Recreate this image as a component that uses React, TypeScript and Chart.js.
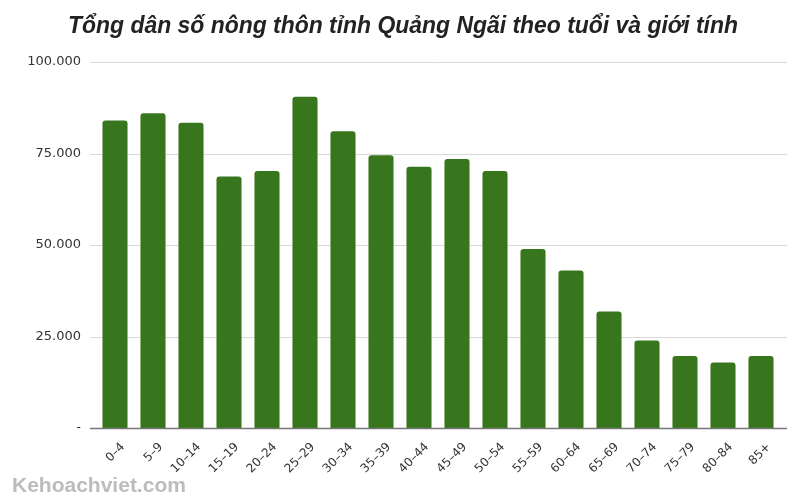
import React, { useEffect, useRef } from "react";
import { Chart, registerables } from "chart.js";

Chart.register(...registerables);

const TITLE = "Tổng dân số nông thôn tỉnh Quảng Ngãi theo tuổi và giới tính";
const WATERMARK = "Kehoachviet.com";

const AGE_GROUPS = [
  "0–4", "5–9", "10–14", "15–19", "20–24", "25–29", "30–34", "35–39", "40–44",
  "45–49", "50–54", "55–59", "60–64", "65–69", "70–74", "75–79", "80–84", "85+",
];

const POPULATION = [
  84000, 86000, 83400, 68700, 70200, 90500, 81100, 74500, 71400,
  73500, 70200, 48900, 43000, 31800, 23900, 19700, 17900, 19700,
];

const Y_MIN = 0;
const Y_MAX = 100000;
const Y_STEP = 25000;

const BAR_COLOR = "#38761d";

function formatTick(v: number): string {
  if (v === 0) return "-";
  return String(Math.round(v)).replace(/\B(?=(\d{3})+(?!\d))/g, ".");
}

const decorPlugin = {
  id: "decor",
  beforeDatasetsDraw(chart: any) {
    const { ctx, chartArea, scales } = chart;
    const y = scales.y;
    ctx.save();
    y.ticks.forEach((t: any) => {
      if (t.value === 0) return;
      const py = Math.round(y.getPixelForValue(t.value)) + 0.5;
      ctx.strokeStyle = "#d9d9d9";
      ctx.lineWidth = 1;
      ctx.beginPath();
      ctx.moveTo(chartArea.left - 6, py);
      ctx.lineTo(chartArea.right + 7, py);
      ctx.stroke();
    });
    ctx.restore();
  },
  afterDatasetsDraw(chart: any) {
    const { ctx, chartArea, scales } = chart;
    const py = Math.round(scales.y.getPixelForValue(0)) + 0.5;
    ctx.save();
    ctx.strokeStyle = "#777777";
    ctx.lineWidth = 1.5;
    ctx.beginPath();
    ctx.moveTo(chartArea.left - 6, py);
    ctx.lineTo(chartArea.right + 7, py);
    ctx.stroke();
    ctx.restore();
  },
  afterDraw(chart: any) {
    const { ctx } = chart;
    ctx.save();
    ctx.textAlign = "center";
    ctx.textBaseline = "alphabetic";
    ctx.fillStyle = "#222222";
    ctx.font = "italic bold 23px 'Liberation Sans', Arial, sans-serif";
    ctx.fillText(TITLE, 403, 33, 670);
    ctx.textAlign = "left";
    ctx.fillStyle = "#bcbcbc";
    ctx.font = "bold 21px 'Liberation Sans', Arial, sans-serif";
    ctx.fillText(WATERMARK, 12, 492, 176);
    ctx.restore();
  },
};

export default function App() {
  const canvasRef = useRef<HTMLCanvasElement | null>(null);

  useEffect(() => {
    if (!canvasRef.current) return;
    const chart = new Chart(canvasRef.current, {
      type: "bar",
      data: {
        labels: AGE_GROUPS,
        datasets: [
          {
            data: POPULATION,
            backgroundColor: BAR_COLOR,
            borderColor: BAR_COLOR,
            borderWidth: 0,
            borderRadius: { topLeft: 3, topRight: 3, bottomLeft: 0, bottomRight: 0 },
            borderSkipped: "start",
            categoryPercentage: 1,
            barPercentage: 0.66,
          },
        ],
      },
      options: {
        animation: false,
        responsive: false,
        maintainAspectRatio: false,
        layout: { padding: { left: 0, right: 20, top: 62, bottom: 0 } },
        plugins: {
          legend: { display: false },
          tooltip: { enabled: false },
          title: { display: false },
        },
        scales: {
          x: {
            grid: { display: false, drawTicks: false },
            border: { display: false },
            ticks: {
              color: "#333333",
              font: { family: "'DejaVu Sans', Verdana, sans-serif", size: 12 },
              maxRotation: 45,
              minRotation: 45,
              padding: 12,
              labelOffset: 8,
              autoSkip: false,
            },
            afterFit: (scale: any) => {
              scale.height = 72;
            },
          },
          y: {
            min: Y_MIN,
            max: Y_MAX,
            grid: { display: false, drawTicks: false },
            border: { display: false },
            ticks: {
              stepSize: Y_STEP,
              color: "#333333",
              font: { family: "'DejaVu Sans', Verdana, sans-serif", size: 13 },
              padding: 15,
              callback: (v: any) => formatTick(Number(v)),
            },
            afterFit: (scale: any) => {
              scale.width = 96;
            },
          },
        },
      },
      plugins: [decorPlugin],
    });
    return () => chart.destroy();
  }, []);

  return (
    <div style={{ position: "fixed", left: 0, top: 0, width: 800, height: 500, background: "#ffffff" }}>
      <canvas ref={canvasRef} width={800} height={500} style={{ width: 800, height: 500, display: "block" }} />
    </div>
  );
}
